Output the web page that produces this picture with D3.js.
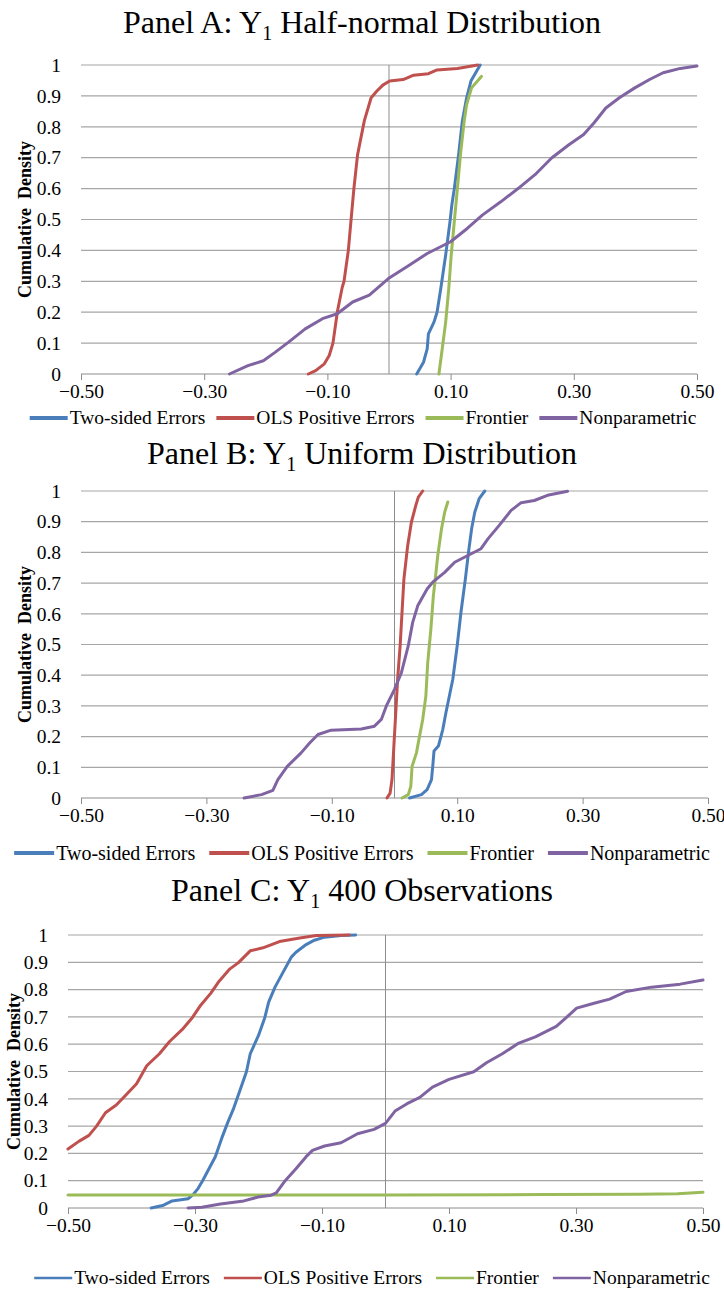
<!DOCTYPE html>
<html>
<head>
<meta charset="utf-8">
<script src="https://cdn.jsdelivr.net/npm/d3@7"></script>
<style>
  html, body { margin: 0; padding: 0; background: #fff; }
  svg { display: block; }
  text { font-family: "Liberation Serif", "Times New Roman", serif; fill: #000; }
</style>
</head>
<body>
<svg id="chart" width="724" height="1293"></svg>
<script>
// ---- data -------------------------------------------------------------
// Each series is an empirical cumulative distribution: [value, cumulative density]
const seriesNames = ["Two-sided Errors", "OLS Positive Errors", "Frontier", "Nonparametric"];
const seriesColors = ["#4a7ebb", "#c0504d", "#9bbb59", "#8064a2"];
const xTickValues = [-0.50, -0.30, -0.10, 0.10, 0.30, 0.50];
const yTickValues = [0, 0.1, 0.2, 0.3, 0.4, 0.5, 0.6, 0.7, 0.8, 0.9, 1];

// Panel A: half-normal distribution
const halfNormalTwoSided = [[0.045,0],[0.056,0.038],[0.062,0.081],[0.064,0.13],[0.073,0.168],[0.078,0.2],[0.084,0.276],[0.092,0.385],[0.099,0.493],[0.102,0.547],[0.106,0.6],[0.113,0.71],[0.119,0.818],[0.126,0.894],[0.133,0.948],[0.148,1]];
const halfNormalOLS = [[-0.131,0],[-0.119,0.011],[-0.105,0.033],[-0.097,0.06],[-0.091,0.1],[-0.086,0.17],[-0.084,0.2],[-0.076,0.28],[-0.073,0.3],[-0.066,0.4],[-0.062,0.49],[-0.057,0.6],[-0.051,0.71],[-0.040,0.82],[-0.029,0.894],[-0.020,0.915],[-0.010,0.935],[0.001,0.948],[0.023,0.953],[0.040,0.967],[0.064,0.972],[0.078,0.984],[0.111,0.989],[0.144,1]];
const halfNormalFrontier = [[0.081,0],[0.085,0.06],[0.092,0.168],[0.097,0.276],[0.101,0.385],[0.106,0.493],[0.111,0.6],[0.116,0.71],[0.122,0.818],[0.126,0.872],[0.134,0.926],[0.150,0.963]];
const halfNormalNonparam = [[-0.259,0],[-0.229,0.027],[-0.204,0.043],[-0.185,0.07],[-0.163,0.103],[-0.136,0.146],[-0.108,0.179],[-0.084,0.195],[-0.059,0.233],[-0.032,0.255],[-0.001,0.309],[0.029,0.347],[0.062,0.39],[0.100,0.428],[0.127,0.471],[0.152,0.515],[0.182,0.558],[0.210,0.601],[0.237,0.645],[0.264,0.699],[0.292,0.742],[0.316,0.775],[0.333,0.813],[0.352,0.861],[0.374,0.894],[0.399,0.926],[0.423,0.953],[0.445,0.975],[0.473,0.989],[0.500,0.997]];

// Panel B: uniform distribution
const uniformTwoSided = [[0.024,0],[0.043,0.011],[0.052,0.027],[0.059,0.06],[0.061,0.103],[0.063,0.153],[0.070,0.169],[0.077,0.223],[0.082,0.278],[0.093,0.387],[0.100,0.496],[0.106,0.605],[0.113,0.713],[0.118,0.8],[0.123,0.877],[0.128,0.931],[0.135,0.975],[0.144,1]];
const uniformOLS = [[-0.012,0],[-0.007,0.016],[-0.004,0.06],[-0.001,0.169],[0.002,0.278],[0.005,0.387],[0.009,0.496],[0.012,0.605],[0.015,0.713],[0.021,0.822],[0.027,0.899],[0.034,0.953],[0.038,0.98],[0.045,1]];
const uniformFrontier = [[0.012,0],[0.022,0.011],[0.026,0.038],[0.028,0.103],[0.035,0.147],[0.039,0.191],[0.045,0.256],[0.050,0.332],[0.053,0.441],[0.058,0.55],[0.062,0.659],[0.065,0.713],[0.069,0.79],[0.075,0.877],[0.080,0.931],[0.085,0.964]];
const uniformNonparam = [[-0.240,0],[-0.212,0.011],[-0.194,0.025],[-0.186,0.06],[-0.171,0.103],[-0.149,0.147],[-0.135,0.18],[-0.122,0.207],[-0.101,0.221],[-0.053,0.225],[-0.032,0.234],[-0.021,0.256],[-0.013,0.3],[0.000,0.354],[0.011,0.408],[0.022,0.496],[0.029,0.572],[0.037,0.626],[0.052,0.681],[0.061,0.703],[0.080,0.735],[0.096,0.768],[0.117,0.79],[0.138,0.812],[0.149,0.844],[0.167,0.888],[0.186,0.937],[0.202,0.962],[0.223,0.969],[0.244,0.986],[0.276,0.999]];

// Panel C: 400 observations
const obs400TwoSided = [[-0.369,0],[-0.351,0.009],[-0.336,0.026],[-0.311,0.034],[-0.303,0.049],[-0.295,0.072],[-0.288,0.1],[-0.278,0.144],[-0.268,0.188],[-0.258,0.255],[-0.249,0.31],[-0.239,0.366],[-0.229,0.432],[-0.219,0.499],[-0.213,0.565],[-0.200,0.632],[-0.190,0.698],[-0.184,0.754],[-0.174,0.809],[-0.161,0.865],[-0.148,0.92],[-0.141,0.937],[-0.125,0.965],[-0.112,0.981],[-0.096,0.992],[-0.070,0.998],[-0.047,1]];
const obs400OLS = [[-0.500,0.216],[-0.483,0.244],[-0.467,0.266],[-0.455,0.3],[-0.441,0.349],[-0.424,0.377],[-0.408,0.416],[-0.392,0.455],[-0.376,0.521],[-0.356,0.565],[-0.340,0.61],[-0.320,0.654],[-0.304,0.698],[-0.291,0.743],[-0.275,0.787],[-0.262,0.831],[-0.245,0.876],[-0.232,0.898],[-0.213,0.942],[-0.193,0.953],[-0.167,0.976],[-0.135,0.989],[-0.109,0.998],[-0.057,1]];
const obs400Frontier = [[-0.500,0.048],[0.000,0.048],[0.250,0.049],[0.400,0.050],[0.460,0.052],[0.480,0.055],[0.500,0.058]];
const obs400Nonparam = [[-0.311,0],[-0.289,0.003],[-0.260,0.015],[-0.223,0.026],[-0.201,0.04],[-0.180,0.047],[-0.172,0.055],[-0.158,0.1],[-0.141,0.144],[-0.125,0.188],[-0.115,0.211],[-0.096,0.227],[-0.070,0.239],[-0.044,0.272],[-0.018,0.288],[0.000,0.31],[0.015,0.355],[0.034,0.382],[0.054,0.405],[0.074,0.443],[0.100,0.471],[0.139,0.499],[0.159,0.532],[0.184,0.565],[0.210,0.604],[0.236,0.627],[0.269,0.665],[0.285,0.698],[0.301,0.732],[0.327,0.749],[0.353,0.765],[0.379,0.793],[0.419,0.809],[0.464,0.82],[0.500,0.835]];

// ---- layout -----------------------------------------------------------
const panels = [
  { label: "Panel A: Y", sub: "1", rest: " Half-normal Distribution",
    series: [halfNormalTwoSided, halfNormalOLS, halfNormalFrontier, halfNormalNonparam],
    left: 81, right: 697, top: 65, bottom: 374, titleY: 33, yTitleX: 25,
    legendY: 418, legendCx: 363, legendFont: 19.5, legendLine: 38, legendGap: 11, legendStroke: 4 },
  { label: "Panel B: Y", sub: "1", rest: " Uniform Distribution",
    series: [uniformTwoSided, uniformOLS, uniformFrontier, uniformNonparam],
    left: 81, right: 708, top: 491, bottom: 798, titleY: 464, yTitleX: 25,
    legendY: 853, legendCx: 362, legendFont: 20, legendLine: 40, legendGap: 14, legendStroke: 4 },
  { label: "Panel C: Y", sub: "1", rest: " 400 Observations",
    series: [obs400TwoSided, obs400OLS, obs400Frontier, obs400Nonparam],
    left: 68, right: 703, top: 935, bottom: 1208, titleY: 901, yTitleX: 14,
    legendY: 1278, legendCx: 372, legendFont: 19.5, legendLine: 38, legendGap: 14, legendStroke: 2.5 }
];

const svg = d3.select("#chart");
const gridColor = "#a6a6a6";
const axisColor = "#8c8c8c";
const serif = '"Liberation Serif", "Times New Roman", serif';

panels.forEach(p => {
  const g = svg.append("g");
  const x = d3.scaleLinear().domain([-0.5, 0.5]).range([p.left, p.right]);
  const y = d3.scaleLinear().domain([0, 1]).range([p.bottom, p.top]);

  // title with subscript
  const t = g.append("text")
    .attr("x", 362).attr("y", p.titleY)
    .attr("text-anchor", "middle")
    .style("font-size", "32px");
  t.append("tspan").text(p.label);
  t.append("tspan").text(p.sub).attr("dy", 7).style("font-size", "20px");
  t.append("tspan").text(p.rest).attr("dy", -7);

  // horizontal gridlines
  g.append("g").selectAll("line")
    .data(yTickValues.filter(v => v > 0))
    .join("line")
    .attr("x1", p.left).attr("x2", p.right)
    .attr("y1", d => y(d)).attr("y2", d => y(d))
    .attr("stroke", gridColor).attr("stroke-width", 1.2);

  // y tick labels
  const yAxis = d3.axisLeft(y).tickValues(yTickValues).tickSize(0).tickPadding(0)
    .tickFormat(d => String(+d.toFixed(1)));
  const ya = g.append("g").attr("transform", `translate(${p.left - 20},0)`).call(yAxis);
  ya.select(".domain").remove();
  ya.selectAll("text").style("font-size", "19.5px").style("font-family", serif);

  // y-axis title
  g.append("text")
    .attr("transform", `translate(${p.yTitleX},${(p.top + p.bottom) / 2}) rotate(-90)`)
    .attr("text-anchor", "middle")
    .attr("dy", "0.35em")
    .style("font-size", "18px").style("font-weight", "bold")
    .style("white-space", "pre")
    .text("Cumulative  Density");

  // vertical axis at zero
  g.append("line")
    .attr("x1", x(0)).attr("x2", x(0))
    .attr("y1", p.top).attr("y2", p.bottom)
    .attr("stroke", axisColor).attr("stroke-width", 1);

  // x axis
  const xAxis = d3.axisBottom(x).tickValues(xTickValues).tickSize(6).tickPadding(4)
    .tickFormat(d3.format(".2f"));
  const xa = g.append("g").attr("transform", `translate(0,${p.bottom})`).call(xAxis);
  xa.select(".domain").attr("stroke", axisColor).attr("d", `M${p.left},0H${p.right}`);
  xa.selectAll(".tick line").attr("stroke", axisColor);
  xa.selectAll("text").style("font-size", "19.5px").style("font-family", serif).attr("fill", "#000");

  // series lines
  const line = d3.line().x(d => x(d[0])).y(d => y(d[1]));
  p.series.forEach((s, i) => {
    g.append("path")
      .datum(s)
      .attr("d", line)
      .attr("fill", "none")
      .attr("stroke", seriesColors[i])
      .attr("stroke-width", 3)
      .attr("stroke-linejoin", "round")
      .attr("stroke-linecap", "round");
  });

  // legend
  const lg = g.append("g");
  let cursor = 0;
  seriesNames.forEach((name, i) => {
    const it = lg.append("g");
    it.append("line")
      .attr("x1", 0).attr("x2", p.legendLine)
      .attr("y1", 0).attr("y2", 0)
      .attr("stroke", seriesColors[i]).attr("stroke-width", p.legendStroke);
    const tx = it.append("text")
      .attr("x", p.legendLine + 2).attr("dy", "0.33em")
      .style("font-size", p.legendFont + "px")
      .text(name);
    const w = p.legendLine + 2 + tx.node().getComputedTextLength();
    it.attr("transform", `translate(${cursor},${p.legendY})`);
    cursor += w + p.legendGap;
  });
  const total = cursor - p.legendGap;
  lg.attr("transform", `translate(${p.legendCx - total / 2},0)`);
});
</script>
</body>
</html>
